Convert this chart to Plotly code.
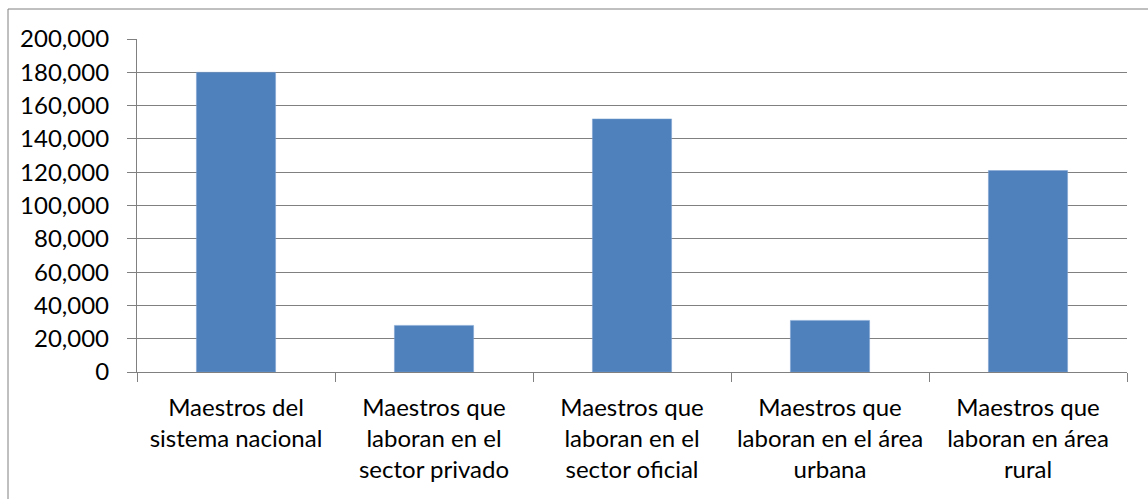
import plotly.graph_objects as go

# Teacher counts by group
categories = [
    "Maestros del<br>sistema nacional",
    "Maestros que<br>laboran en el<br>sector privado",
    "Maestros que<br>laboran en el<br>sector oficial",
    "Maestros que<br>laboran en el área<br>urbana",
    "Maestros que<br>laboran en área<br>rural",
]
teachers = [180000, 28000, 152000, 31000, 121000]

y_ticks = list(range(0, 200001, 20000))

W, H = 1148, 499
M_L, M_R, M_T, M_B = 137, 21, 39, 127
plot_w = W - M_L - M_R
plot_h = H - M_T - M_B

GRAY = "#808080"
FONT = dict(family="Lato, Calibri, sans-serif", size=24, color="#000000")

fig = go.Figure(
    go.Bar(
        x=categories,
        y=teachers,
        marker=dict(color="#4F81BD", line=dict(color="#7fa3d0", width=0.5)),
    )
)

# outer chart frame (left/top edges show; right/bottom run off the page)
fig.add_shape(
    type="rect",
    xref="paper", yref="paper",
    x0=(8 - M_L) / plot_w, x1=(W + 3 - M_L) / plot_w,
    y0=(M_T + plot_h - (H + 3)) / plot_h, y1=(M_T + plot_h - 9) / plot_h,
    line=dict(color=GRAY, width=1),
    fillcolor="rgba(0,0,0,0)",
    layer="below",
)

fig.update_layout(
    width=W,
    height=H,
    margin=dict(l=M_L, r=M_R, t=M_T, b=M_B, pad=0),
    paper_bgcolor="white",
    plot_bgcolor="white",
    bargap=0.6,
    showlegend=False,
    font=FONT,
)

fig.update_xaxes(
    type="category",
    showline=True,
    linecolor=GRAY,
    linewidth=1.3,
    ticks="outside",
    tickson="boundaries",
    ticklen=9,
    tickcolor=GRAY,
    tickwidth=1.3,
    showgrid=False,
    tickfont=FONT,
    ticklabelstandoff=14,
)

fig.update_yaxes(
    range=[0, 200000],
    tickvals=y_ticks,
    tickformat=",",
    showline=True,
    linecolor=GRAY,
    linewidth=1.3,
    ticks="outside",
    ticklen=9,
    tickcolor=GRAY,
    tickwidth=1.3,
    showgrid=True,
    gridcolor=GRAY,
    gridwidth=1.3,
    zeroline=False,
    tickfont=FONT,
    ticklabelstandoff=13,
)

fig.write_html("out.html")
